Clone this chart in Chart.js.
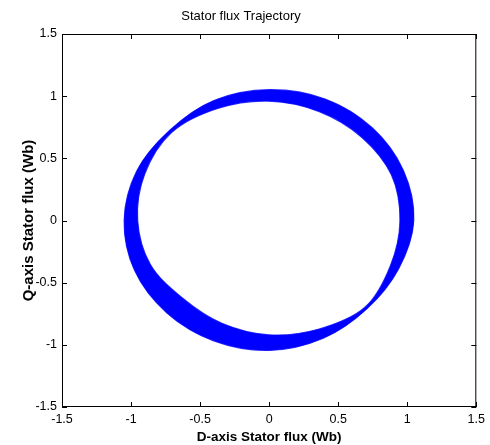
<!DOCTYPE html>
<html>
<head>
<meta charset="utf-8">
<script src="https://cdn.jsdelivr.net/npm/chart.js@4/dist/chart.umd.min.js"></script>
<style>
  html, body { margin: 0; padding: 0; background: #fff; }
  canvas { display: block; }
</style>
</head>
<body>
<canvas id="flux" width="490" height="445"></canvas>
<script>
// Outer edge of the stator flux band (D, Q in Wb), counter-clockwise from the +D axis
const outerD = [1.047, 0.972, 0.746, 0.405, 0.000, -0.400, -0.723, -0.959, -1.050, -0.974, -0.742, -0.401, 0.000, 0.392, 0.709, 0.938];
const outerQ = [0.000, 0.403, 0.746, 0.977, 1.052, 0.965, 0.723, 0.397, 0.000, -0.403, -0.742, -0.968, -1.045, -0.947, -0.709, -0.388];

// Inner edge of the band, same order
const innerD = [0.947, 0.885, 0.670, 0.363, 0.000, -0.373, -0.707, -0.901, -0.952, -0.859, -0.626, -0.343, 0.000, 0.362, 0.696, 0.878];
const innerQ = [0.000, 0.367, 0.670, 0.876, 0.960, 0.901, 0.707, 0.373, 0.000, -0.356, -0.626, -0.827, -0.920, -0.873, -0.696, -0.364];

// Axis ticks (both axes share them)
const tickValues = [-1.5, -1, -0.5, 0, 0.5, 1, 1.5];
const tickLabels = ['-1.5', '-1', '-0.5', '0', '0.5', '1', '1.5'];

const FONT = "'Liberation Sans', Arial, Helvetica, sans-serif";

// Closed contour; the seam points are repeated so the spline stays smooth there
function contour(ds, qs) {
  const pts = ds.map((d, i) => ({ x: d, y: qs[i] }));
  const n = pts.length;
  return [pts[n - 1], ...pts, pts[0], pts[1]];
}

// Box frame with inward tick marks on all four sides
const framePlugin = {
  id: 'frame',
  afterDraw(chart) {
    const { ctx, chartArea: a, scales: { x, y } } = chart;
    ctx.save();
    ctx.strokeStyle = '#000';
    ctx.lineWidth = 1;
    ctx.strokeRect(a.left + 0.5, a.top + 0.5, a.right - a.left - 1, a.bottom - a.top - 1);
    const len = 5;
    ctx.beginPath();
    tickValues.forEach(v => {
      const px = Math.round(x.getPixelForValue(v)) + 0.5;
      ctx.moveTo(px, a.bottom); ctx.lineTo(px, a.bottom - len);
      ctx.moveTo(px, a.top); ctx.lineTo(px, a.top + len);
      const py = Math.round(y.getPixelForValue(v)) + 0.5;
      ctx.moveTo(a.left, py); ctx.lineTo(a.left + len, py);
      ctx.moveTo(a.right, py); ctx.lineTo(a.right - len, py);
    });
    ctx.stroke();
    ctx.restore();
  }
};

const setTicks = scale => { scale.ticks = tickValues.map(v => ({ value: v })); };
const tickText = v => tickLabels[tickValues.indexOf(v)];

// Shared look of both band edges; the repeated seam segments get no outline
function bandDataset(label, ds, qs, fillColor) {
  const data = contour(ds, qs);
  const last = data.length - 1;
  return {
    label,
    data,
    showLine: true,
    tension: 0.34,
    pointRadius: 0,
    borderColor: 'rgba(0,0,255,0.8)',
    borderWidth: 1.2,
    backgroundColor: fillColor,
    fill: 'shape',
    segment: {
      borderColor: c => (c.p0DataIndex === 0 || c.p1DataIndex === last) ? 'rgba(0,0,0,0)' : undefined
    }
  };
}

new Chart(document.getElementById('flux'), {
  type: 'scatter',
  data: {
    datasets: [
      // hollow centre of the band, painted over the filled outer contour
      bandDataset('inner', innerD, innerQ, '#ffffff'),
      bandDataset('outer', outerD, outerQ, '#0000ff')
    ]
  },
  options: {
    responsive: false,
    animation: false,
    devicePixelRatio: 1,
    layout: { padding: { left: 0, right: 8, top: 0, bottom: 0 } },
    plugins: {
      legend: { display: false },
      tooltip: { enabled: false },
      title: {
        display: true,
        text: 'Stator flux Trajectory',
        color: '#000',
        font: { family: FONT, size: 13, weight: 'normal' },
        padding: { top: 9, bottom: 9.4 }
      }
    },
    scales: {
      x: {
        type: 'linear',
        position: 'bottom',
        min: -1.5, max: 1.5,
        afterBuildTicks: setTicks,
        afterFit: s => { s.height = 38; },
        grid: { display: false, drawTicks: false },
        border: { display: false },
        ticks: { callback: tickText, color: '#000', padding: 5, maxRotation: 0, autoSkip: false,
                 font: { family: FONT, size: 12.5 } },
        title: { display: true, text: 'D-axis Stator flux (Wb)', color: '#000',
                 font: { family: FONT, size: 13.5, weight: 'bold' }, padding: { top: 0, bottom: 0 } }
      },
      y: {
        type: 'linear',
        position: 'left',
        min: -1.5, max: 1.5,
        afterBuildTicks: setTicks,
        afterFit: s => { s.width = 62; },
        grid: { display: false, drawTicks: false },
        border: { display: false },
        ticks: { callback: tickText, color: '#000', padding: 5, autoSkip: false,
                 font: { family: FONT, size: 12.5 } },
        title: { display: true, text: 'Q-axis Stator flux (Wb)', color: '#000',
                 font: { family: FONT, size: 15, weight: 'bold' }, padding: { top: 20, bottom: 0 } }
      }
    }
  },
  plugins: [framePlugin]
});
</script>
</body>
</html>
